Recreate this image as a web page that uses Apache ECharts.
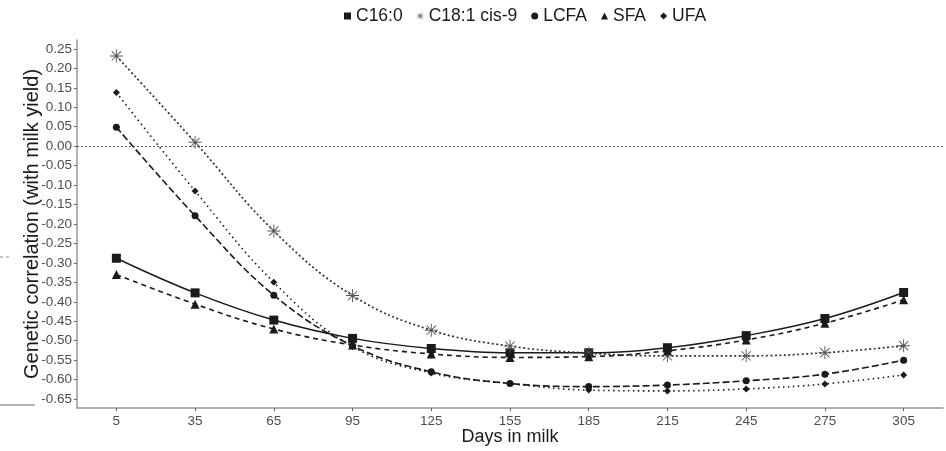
<!DOCTYPE html>
<html>
<head>
<meta charset="utf-8">
<script src="https://cdn.jsdelivr.net/npm/echarts@6/dist/echarts.min.js"></script>
<style>
  html, body { margin: 0; padding: 0; background: #fff; }
  #main { width: 946px; height: 451px; }
</style>
</head>
<body>
<div id="main"></div>
<script>
// days in milk and the tick labels
var days = [5, 35, 65, 95, 125, 155, 185, 215, 245, 275, 305];
var xTicks = [5, 35, 65, 95, 125, 155, 185, 215, 245, 275, 305];
var yTicks = [0.25, 0.20, 0.15, 0.10, 0.05, 0.00, -0.05, -0.10, -0.15, -0.20, -0.25,
  -0.30, -0.35, -0.40, -0.45, -0.50, -0.55, -0.60, -0.65];

// genetic correlations
var c160 = [-0.288, -0.377, -0.447, -0.494, -0.520, -0.531, -0.531, -0.518, -0.487, -0.443, -0.376];
var c181 = [0.232, 0.010, -0.218, -0.384, -0.473, -0.514, -0.532, -0.539, -0.539, -0.531, -0.513];
var lcfa = [0.049, -0.179, -0.383, -0.513, -0.580, -0.610, -0.618, -0.614, -0.603, -0.586, -0.550];
var sfa  = [-0.330, -0.406, -0.470, -0.511, -0.534, -0.543, -0.541, -0.526, -0.498, -0.455, -0.395];
var ufa  = [0.138, -0.115, -0.350, -0.515, -0.583, -0.610, -0.627, -0.629, -0.624, -0.611, -0.588];

var asterisk = 'path://M9.3 0L10.7 0L10.7 20L9.3 20Z M0 9.3L20 9.3L20 10.7L0 10.7Z ' +
  'M3.43 2.43L17.57 16.57L16.57 17.57L2.43 3.43Z M16.57 2.43L17.57 3.43L3.43 17.57L2.43 16.57Z';

var FONT = "'Liberation Sans', Arial, sans-serif";
var INK = '#1a1a1a';

function pairs(arr) {
  return arr.map(function (v, i) { return [days[i], v]; });
}

function line(name, data, symbol, size, dash, width, color) {
  return {
    name: name,
    type: 'line',
    data: pairs(data),
    smooth: 0.4,
    symbol: symbol,
    symbolSize: size,
    showSymbol: true,
    itemStyle: { color: color || INK },
    lineStyle: { color: INK, width: width, type: dash },
    emphasis: { disabled: true },
    z: 3
  };
}

var chart = echarts.init(document.getElementById('main'), null, { renderer: 'canvas' });

var series = [
  line('C16:0', c160, 'rect', 9, 'solid', 1.5),
  line('C18:1 cis-9', c181, asterisk, 13, [2, 2.5], 1.7, '#555'),
  line('LCFA', lcfa, 'circle', 7, [7, 3], 1.6),
  line('SFA', sfa, 'triangle', 9, [5, 4], 1.6),
  line('UFA', ufa, 'diamond', 7, [1.5, 3.5], 1.6)
];
series[1].lineStyle.color = '#333';
series[0].markLine = {
  silent: true,
  symbol: 'none',
  label: { show: false },
  lineStyle: { color: '#555', type: [2, 2], width: 1 },
  data: [{ yAxis: 0 }]
};

chart.setOption({
  animation: false,
  backgroundColor: '#fff',
  textStyle: { fontFamily: FONT },
  legend: {
    top: 2,
    left: 339,
    itemWidth: 7,
    itemHeight: 7,
    itemGap: 14,
    textStyle: { fontSize: 17.5, color: INK, fontFamily: FONT },
    data: [
      { name: 'C16:0', icon: 'rect' },
      { name: 'C18:1 cis-9', icon: asterisk },
      { name: 'LCFA', icon: 'circle' },
      { name: 'SFA', icon: 'triangle' },
      { name: 'UFA', icon: 'diamond' }
    ]
  },
  grid: { left: 77, right: 3, top: 40, bottom: 43, outerBoundsMode: 'none' },
  xAxis: {
    type: 'value',
    min: -10,
    max: 320,
    name: 'Days in milk',
    nameLocation: 'middle',
    nameGap: 20,
    nameMoveOverlap: false,
    nameTextStyle: { fontSize: 18, color: INK, fontFamily: FONT, verticalAlign: 'top' },
    axisLine: { show: true, onZero: false, lineStyle: { color: '#999', width: 1.5 } },
    axisTick: { show: true, length: 3, customValues: xTicks, lineStyle: { color: '#666' } },
    axisLabel: { customValues: xTicks, fontSize: 13.5, color: '#4d4d4d', margin: 6, fontFamily: FONT },
    splitLine: { show: false }
  },
  yAxis: {
    type: 'value',
    min: -0.673,
    max: 0.273,
    name: 'Genetic correlation (with milk yield)',
    nameLocation: 'middle',
    nameGap: 35,
    nameMoveOverlap: false,
    nameTextStyle: { fontSize: 20, color: INK, fontFamily: FONT },
    axisLine: { show: true, onZero: false, lineStyle: { color: '#999', width: 1.5 } },
    axisTick: { show: true, length: 3, customValues: yTicks, lineStyle: { color: '#666' } },
    axisLabel: {
      customValues: yTicks, fontSize: 13.5, color: '#4d4d4d', margin: 5, fontFamily: FONT,
      formatter: function (v) { return v.toFixed(2); }
    },
    splitLine: { show: false }
  },
  graphic: [
    { type: 'line', shape: { x1: 0, y1: 257, x2: 10, y2: 257 }, style: { stroke: '#888', lineWidth: 1, lineDash: [3, 3] } },
    { type: 'line', shape: { x1: 0, y1: 405, x2: 35, y2: 405 }, style: { stroke: '#999', lineWidth: 1.5 } }
  ],
  series: series
});
</script>
</body>
</html>
